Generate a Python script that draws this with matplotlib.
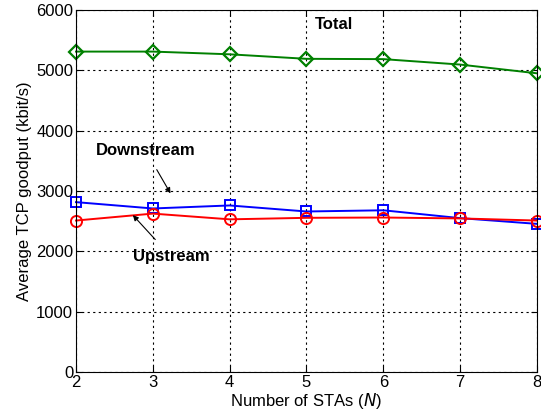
import matplotlib.pyplot as plt
import numpy as np

plt.rcParams['font.family'] = ['Liberation Sans', 'DejaVu Sans']

# data
n_stas = [2, 3, 4, 5, 6, 7, 8]
total = [5310, 5310, 5265, 5190, 5185, 5095, 4950]
downstream = [2815, 2710, 2760, 2660, 2680, 2550, 2455]
upstream = [2510, 2625, 2530, 2555, 2560, 2545, 2510]

fig = plt.figure(figsize=(5.41, 4.20), dpi=100)
ax = fig.add_axes([0.1405, 0.1143, 0.852, 0.862])

ax.plot(n_stas, total, color='#008000', lw=1.4, marker='D', ms=7.5,
        mfc='none', mec='#008000', mew=1.6, clip_on=False)
ax.plot(n_stas, downstream, color='#0000ff', lw=1.4, marker='s', ms=7,
        mfc='none', mec='#0000ff', mew=1.4, clip_on=False)
ax.plot(n_stas, upstream, color='#ff0000', lw=1.4, marker='o', ms=8,
        mfc='none', mec='#ff0000', mew=1.4, clip_on=False)

ax.set_xlim(2, 8)
ax.set_ylim(0, 6000)
ax.set_xticks(n_stas)
ax.set_yticks(np.arange(0, 6001, 1000))
ax.grid(True, color='black', linestyle=(0, (2, 3)), linewidth=0.8)
ax.tick_params(direction='in', labelsize=12, length=4, top=True, right=True,
               labeltop=False, labelright=False, pad=2)
ax.set_xlabel("Number of STAs ($\\it{N}$)", fontsize=12, labelpad=1)
ax.set_ylabel("Average TCP goodput (kbit/s)", fontsize=12, labelpad=3)

# annotations
ax.text(5.36, 5752, "Total", fontsize=12, fontweight='bold',
        ha='center', va='center')
ax.annotate("Downstream", xy=(3.23, 2960), xytext=(2.91, 3663),
            fontsize=12, fontweight='bold', ha='center', va='center',
            arrowprops=dict(arrowstyle='-|>', color='black', lw=0.8,
                            shrinkA=7, shrinkB=0, mutation_scale=8))
ax.annotate("Upstream", xy=(2.74, 2600), xytext=(3.24, 1906),
            fontsize=12, fontweight='bold', ha='center', va='center',
            arrowprops=dict(arrowstyle='-|>', color='black', lw=0.8,
                            shrinkA=7, shrinkB=0, mutation_scale=8))

plt.savefig("out.png", dpi=100)
